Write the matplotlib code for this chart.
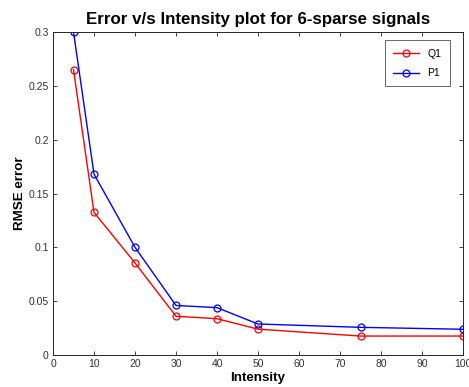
import matplotlib
matplotlib.use("Agg")
import matplotlib.pyplot as plt

intensity = [5, 10, 20, 30, 40, 50, 75, 100]
q1 = [0.265, 0.1325, 0.0855, 0.036, 0.0337, 0.024, 0.0176, 0.0176]
p1 = [0.300, 0.168, 0.1000, 0.046, 0.044, 0.0288, 0.0257, 0.0239]
xticks = [0, 10, 20, 30, 40, 50, 60, 70, 80, 90, 100]
yticks = [0, 0.05, 0.1, 0.15, 0.2, 0.25, 0.3]
yticklabels = ["0", "0.05", "0.1", "0.15", "0.2", "0.25", "0.3"]

plt.rcParams['font.family'] = ['Liberation Sans', 'DejaVu Sans']

fig = plt.figure(figsize=(4.69, 3.87), dpi=100)
ax = fig.add_axes([53/469, 32/387, 410/469, 323/387])

ax.plot(intensity, q1, color='#ff0000', marker='o', markersize=5, markerfacecolor='none',
        markeredgewidth=0.9, linewidth=1.0, label='Q1')
ax.plot(intensity, p1, color='#0000ff', marker='o', markersize=5, markerfacecolor='none',
        markeredgewidth=0.9, linewidth=1.0, label='P1')

ax.set_xlim(0, 100)
ax.set_ylim(0, 0.3)
ax.set_xticks(xticks)
ax.set_xticklabels([str(t) for t in xticks])
ax.set_yticks(yticks)
ax.set_yticklabels(yticklabels)
ax.tick_params(direction='in', top=True, right=True, length=3, width=0.6,
               labelsize=7.5, colors='#262626', labelcolor='#333333', pad=3)
for s in ax.spines.values():
    s.set_linewidth(0.7)
    s.set_color('#262626')

ax.set_title('Error v/s Intensity plot for 6-sparse signals', fontsize=12.2, fontweight='bold', pad=6)
ax.set_xlabel('Intensity', fontsize=9.6, fontweight='bold', labelpad=2)
ax.set_ylabel('RMSE error', fontsize=9.6, fontweight='bold', labelpad=2)

leg = ax.legend(loc='upper right', fontsize=7.5, frameon=True, fancybox=False,
                edgecolor='#262626', handlelength=2.5, borderpad=0.8, labelspacing=0.9,
                bbox_to_anchor=(0.98, 0.99))
leg.get_frame().set_linewidth(0.6)

fig.savefig('out.png', dpi=100)
